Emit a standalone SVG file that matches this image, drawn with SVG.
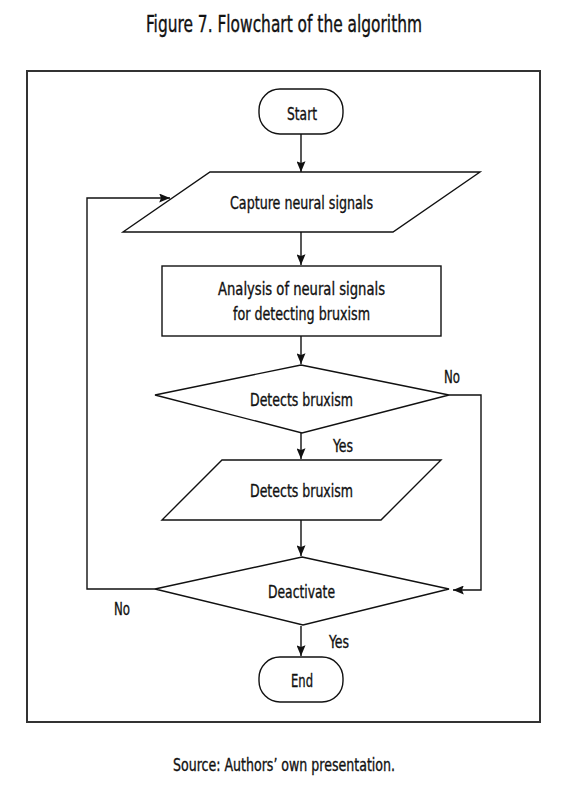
<svg xmlns="http://www.w3.org/2000/svg" width="580" height="791" viewBox="0 0 580 791">
  <style>
    text { font-family: "Liberation Sans Narrow", "DejaVu Sans Condensed", "Liberation Sans", sans-serif; fill: #111; stroke: #111; stroke-width: 0.35; text-anchor: middle; }
    .t { font-size: 18px; }
    .title { font-size: 22.5px; }
    .shape { fill: #fff; stroke: #111; stroke-width: 1.4; }
    .conn { fill: none; stroke: #111; stroke-width: 1.4; }
    .frame { fill: none; stroke: #333; stroke-width: 2; }
  </style>
  <defs>
    <marker id="arrow" viewBox="0 0 12 10" refX="12" refY="5" markerWidth="12" markerHeight="9" markerUnits="userSpaceOnUse" orient="auto">
      <path d="M0,0 L12,5 L0,10 L2,5 Z" fill="#111"/>
    </marker>
  </defs>
  <rect width="580" height="791" fill="#fff"/>

  <text class="title" x="284" y="32" textLength="276" lengthAdjust="spacingAndGlyphs">Figure 7. Flowchart of the algorithm</text>
  <rect class="frame" x="27" y="71" width="513" height="651"/>

  <g id="start">
    <rect class="shape" x="259" y="89" width="84" height="45" rx="21" ry="21"/>
    <text class="t" x="302" y="120" textLength="30" lengthAdjust="spacingAndGlyphs">Start</text>
  </g>

  <g id="capture">
    <polygon class="shape" points="210,172 480,172 393,232 123,232"/>
    <text class="t" x="301.5" y="209" textLength="143" lengthAdjust="spacingAndGlyphs">Capture neural signals</text>
  </g>

  <g id="analysis">
    <rect class="shape" x="162" y="266" width="279" height="70"/>
    <text class="t" x="301.5" y="295" textLength="167" lengthAdjust="spacingAndGlyphs">Analysis of neural signals</text>
    <text class="t" x="301.5" y="320" textLength="137" lengthAdjust="spacingAndGlyphs">for detecting bruxism</text>
  </g>

  <g id="decision1">
    <polygon class="shape" points="301,365 449,395 302,433 155,395"/>
    <text class="t" x="301.5" y="406" textLength="103" lengthAdjust="spacingAndGlyphs">Detects bruxism</text>
  </g>

  <g id="detects">
    <polygon class="shape" points="222,460 441,460 381,520 162,520"/>
    <text class="t" x="301.5" y="497" textLength="103" lengthAdjust="spacingAndGlyphs">Detects bruxism</text>
  </g>

  <g id="deactivate">
    <polygon class="shape" points="302,557 449,589 303,625 155,589"/>
    <text class="t" x="301.5" y="598" textLength="67" lengthAdjust="spacingAndGlyphs">Deactivate</text>
  </g>

  <g id="end">
    <rect class="shape" x="259" y="657" width="84" height="45" rx="21" ry="21"/>
    <text class="t" x="302" y="687" textLength="22" lengthAdjust="spacingAndGlyphs">End</text>
  </g>

  <g id="connectors">
    <line class="conn" x1="301" y1="134" x2="301" y2="172" marker-end="url(#arrow)"/>
    <line class="conn" x1="301" y1="232" x2="301" y2="265" marker-end="url(#arrow)"/>
    <line class="conn" x1="301" y1="336" x2="301" y2="364" marker-end="url(#arrow)"/>
    <line class="conn" x1="301" y1="433" x2="301" y2="459" marker-end="url(#arrow)"/>
    <line class="conn" x1="301" y1="520" x2="301" y2="556" marker-end="url(#arrow)"/>
    <line class="conn" x1="301" y1="626" x2="301" y2="656" marker-end="url(#arrow)"/>
    <polyline class="conn" points="449,395 481,395 481,590 453,590" marker-end="url(#arrow)"/>
    <polyline class="conn" points="155,589 87,589 87,198 170,198" marker-end="url(#arrow)"/>
    <text class="t" x="343" y="452" textLength="20" lengthAdjust="spacingAndGlyphs">Yes</text>
    <text class="t" x="452" y="383" textLength="16" lengthAdjust="spacingAndGlyphs">No</text>
    <text class="t" x="339" y="648" textLength="20" lengthAdjust="spacingAndGlyphs">Yes</text>
    <text class="t" x="122" y="615" textLength="16" lengthAdjust="spacingAndGlyphs">No</text>
  </g>

  <text class="t" x="284" y="771" textLength="222" lengthAdjust="spacingAndGlyphs">Source: Authors’ own presentation.</text>
</svg>
